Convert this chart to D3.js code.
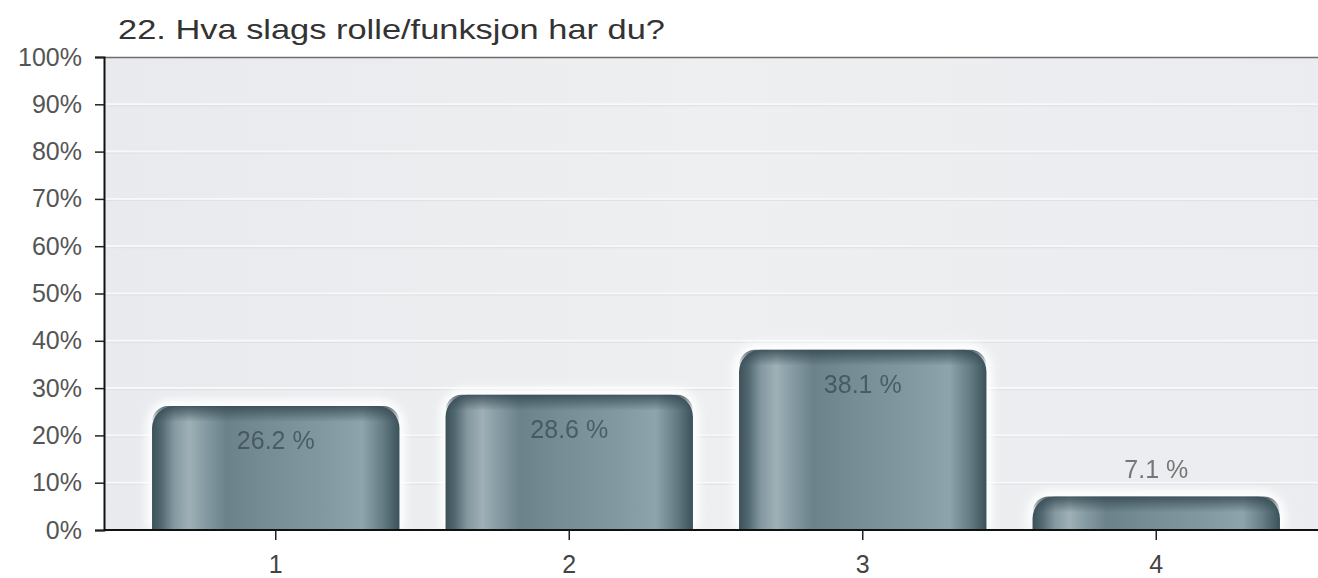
<!DOCTYPE html>
<html><head><meta charset="utf-8">
<script src="https://cdn.jsdelivr.net/npm/d3@7/dist/d3.min.js"></script>
<style>
body{margin:0;background:#fff;}
svg{display:block;font-family:"Liberation Sans",Arial,sans-serif;}
</style></head>
<body><svg id="c" width="1318" height="578"></svg>
<script>
const title = "22. Hva slags rolle/funksjon har du?";
const categories = ["1","2","3","4"];
const values = [26.2, 28.6, 38.1, 7.1];
const valueLabels = ["26.2 %","28.6 %","38.1 %","7.1 %"];
const yTicks = [0,10,20,30,40,50,60,70,80,90,100];

const svg = d3.select("#c");
const W = 1318, H = 578;
const m = {l:104, r:0, t:57, b:48};
const x = d3.scaleBand().domain(categories).range([129, 1303]).paddingInner(0.157).paddingOuter(0.0785);
const y = d3.scaleLinear().domain([0,100]).range([H-m.b, m.t]);

const defs = svg.append("defs");
const bg = defs.append("linearGradient").attr("id","bg").attr("x1",0).attr("x2",1).attr("y1",0).attr("y2",0);
bg.append("stop").attr("offset","0%").attr("stop-color","#e8eaed");
bg.append("stop").attr("offset","50%").attr("stop-color","#edeff1");
bg.append("stop").attr("offset","100%").attr("stop-color","#eaecef");

const bar = defs.append("linearGradient").attr("id","bar").attr("x1",0).attr("x2",1).attr("y1",0).attr("y2",0);
[["0%","#3b5059"],["4%","#546a73"],["9%","#8599a1"],["15%","#9fb0b6"],["21%","#879ca4"],["30%","#6c828b"],["45%","#768c95"],["70%","#8399a2"],["85%","#8ea4ad"],["93%","#677d86"],["100%","#3c525b"]]
  .forEach(([o,c])=>bar.append("stop").attr("offset",o).attr("stop-color",c));
const topg = defs.append("linearGradient").attr("id","topg").attr("x1",0).attr("x2",0).attr("y1",0).attr("y2",1);
topg.append("stop").attr("offset","0%").attr("stop-color","#2f444d").attr("stop-opacity",0.8);
topg.append("stop").attr("offset","100%").attr("stop-color","#2f444d").attr("stop-opacity",0);
const blur = defs.append("filter").attr("id","glow").attr("x","-10%").attr("y","-10%").attr("width","120%").attr("height","120%");
blur.append("feGaussianBlur").attr("stdDeviation",4);
const tblur = defs.append("filter").attr("id","tblur");
tblur.append("feGaussianBlur").attr("stdDeviation",0.6);

// plot background
svg.append("rect").attr("x",m.l).attr("y",m.t).attr("width",W-m.l).attr("height",y(0)-m.t).attr("fill","url(#bg)");

// gridlines
const gridVals = yTicks.filter(d=>d>0&&d<100);
svg.append("g").selectAll("line").data(gridVals).join("line")
  .attr("x1",m.l).attr("x2",W).attr("y1",d=>y(d)).attr("y2",d=>y(d))
  .attr("stroke","#f7f8f9").attr("stroke-width",2);
svg.append("g").selectAll("line").data(gridVals).join("line")
  .attr("x1",m.l).attr("x2",W).attr("y1",d=>y(d)+1.5).attr("y2",d=>y(d)+1.5)
  .attr("stroke","#dde0e3").attr("stroke-width",1);
// top border
svg.append("line").attr("x1",m.l).attr("x2",W).attr("y1",m.t+0.5).attr("y2",m.t+0.5).attr("stroke","#6e6e6e").attr("stroke-width",1.5);

function barPath(x0,w,yt,yb,r){
  r = Math.min(r, w/2, yb-yt);
  const p = d3.path();
  p.moveTo(x0,yb);
  p.lineTo(x0,yt+r);
  p.arcTo(x0,yt,x0+r,yt,r);
  p.lineTo(x0+w-r,yt);
  p.arcTo(x0+w,yt,x0+w,yt+r,r);
  p.lineTo(x0+w,yb);
  p.closePath();
  return p.toString();
}

const gb = svg.append("g");
categories.forEach((c,i)=>{
  const x0 = x(c), w = x.bandwidth(), yt = y(values[i]), yb = y(0);
  gb.append("path").attr("d",barPath(x0-6,w+12,yt-7,yb,26)).attr("fill","#ffffff").attr("opacity",0.95).attr("filter","url(#glow)");
  gb.append("path").attr("d",barPath(x0,w,yt,yb,22)).attr("fill","url(#bar)");
  gb.append("path").attr("d",barPath(x0,w,yt,Math.min(yt+16,yb),22)).attr("fill","url(#topg)");
});

// value labels
svg.append("g").selectAll("text").data(categories).join("text")
  .attr("x",d=>x(d)+x.bandwidth()/2)
  .attr("y",(d,i)=> values[i] > 15 ? y(values[i])+43 : y(values[i])-18)
  .attr("text-anchor","middle").attr("font-size",25)
  .attr("fill",(d,i)=> values[i] > 15 ? "#34464f" : "#6a6a6a")
  .attr("opacity",(d,i)=> values[i] > 15 ? 0.7 : 0.9)
  .attr("filter","url(#tblur)")
  .text((d,i)=>valueLabels[i]);

// y axis
const ya = svg.append("g").attr("transform",`translate(${m.l},0)`)
  .call(d3.axisLeft(y).tickValues(yTicks).tickSize(9).tickPadding(13).tickFormat(d=>d+"%"));
ya.select(".domain").attr("stroke","#111").attr("stroke-width",2);
ya.selectAll(".tick line").attr("stroke","#222").attr("stroke-width",1.5);
ya.selectAll("text").attr("font-size",25).attr("fill","#555").attr("font-family","Liberation Sans, Arial, sans-serif");

// x axis
const xa = svg.append("g").attr("transform",`translate(0,${y(0)})`)
  .call(d3.axisBottom(x).tickSize(10).tickPadding(15).tickSizeOuter(0));
xa.select(".domain").attr("d",`M${m.l},0H${W}`).attr("stroke","#111").attr("stroke-width",2);
xa.selectAll(".tick line").attr("stroke","#222").attr("stroke-width",1.5);
xa.selectAll("text").attr("font-size",25).attr("fill","#444").attr("font-family","Liberation Sans, Arial, sans-serif");

// title
svg.append("text").attr("x",118).attr("y",39).attr("font-size",28).attr("fill","#333")
  .attr("textLength",547).attr("lengthAdjust","spacingAndGlyphs").text(title);
</script></body></html>
